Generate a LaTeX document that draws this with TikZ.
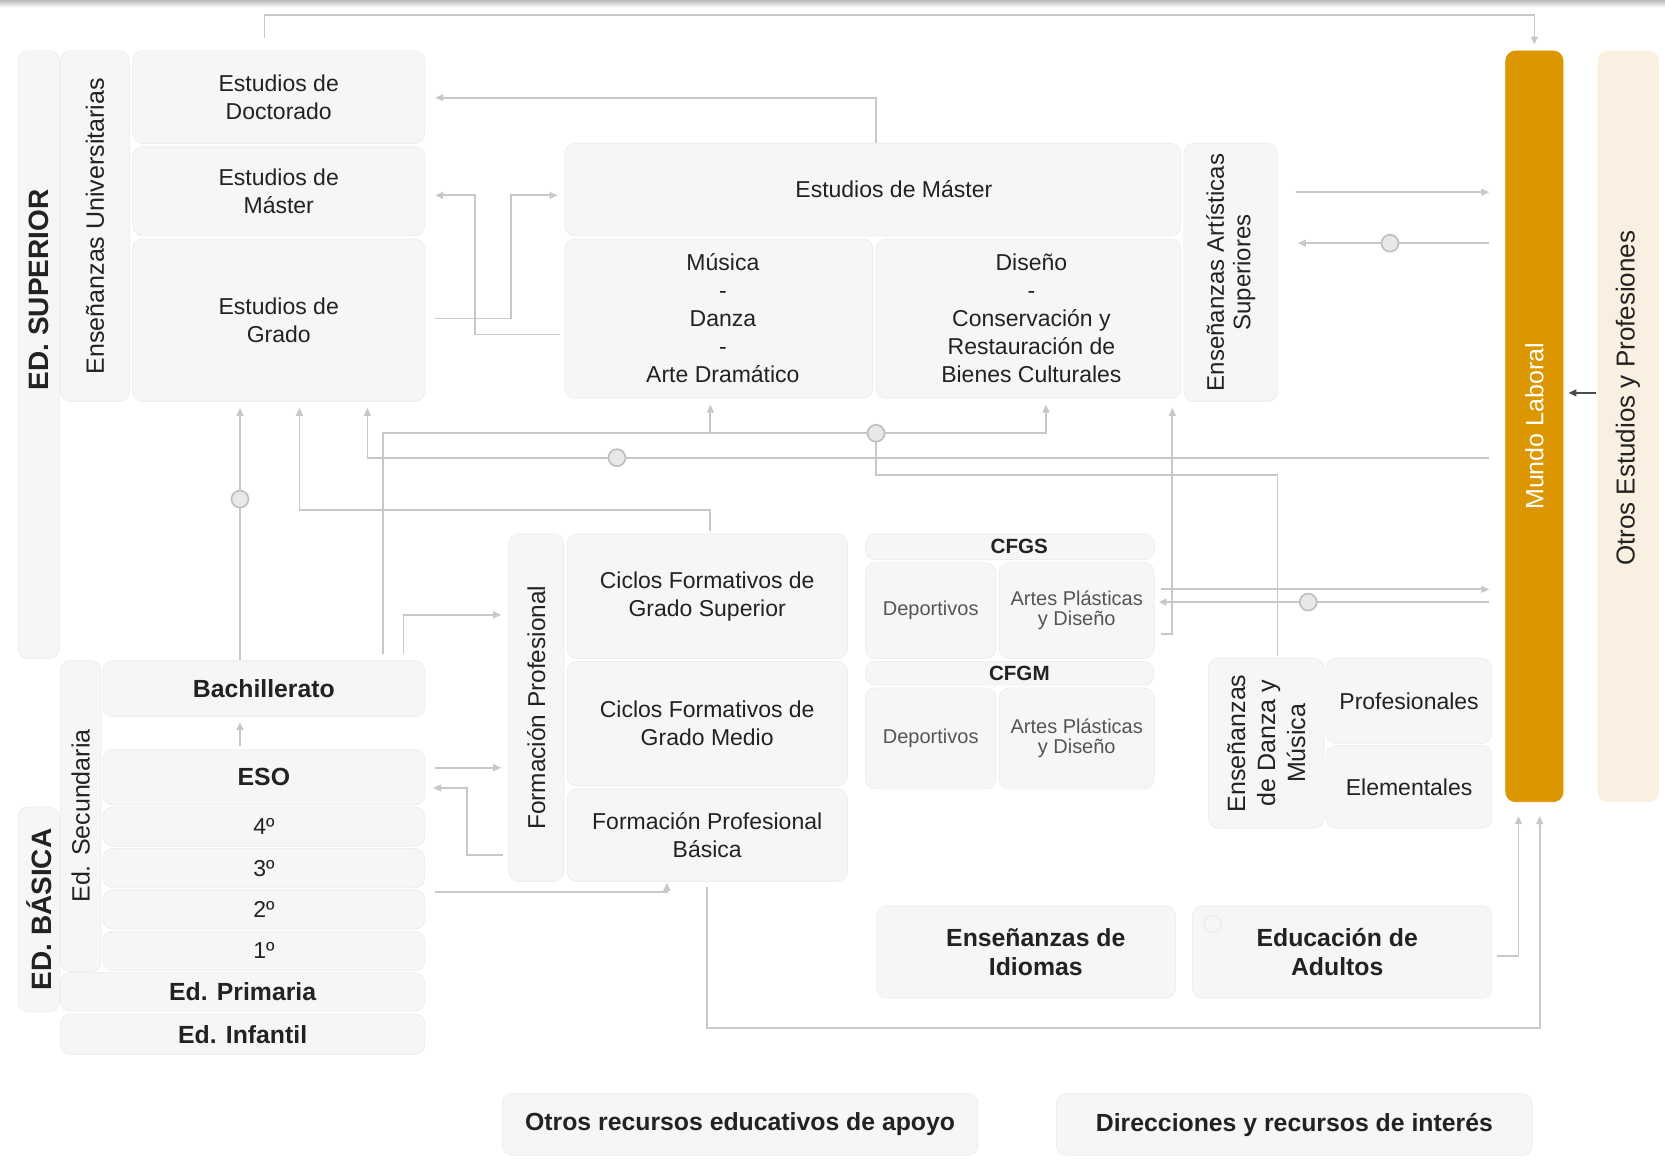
\documentclass[tikz,border=0pt]{standalone}
\usepackage{fontspec}
\setmainfont{Liberation Sans}
\usetikzlibrary{arrows.meta,backgrounds}
\definecolor{boxfill}{RGB}{246,246,246}
\definecolor{boxline}{RGB}{238,238,238}
\definecolor{linegray}{RGB}{200,200,200}
\definecolor{txt}{RGB}{34,34,34}
\definecolor{smalltxt}{RGB}{85,85,85}
\definecolor{mundocol}{RGB}{220,150,0}
\definecolor{otroscol}{RGB}{250,240,226}
\definecolor{circfill}{RGB}{232,232,232}
\definecolor{circline}{RGB}{190,190,190}
\newcommand\fReg{\fontsize{11.5}{14}\selectfont}
\newcommand\fBold{\fontsize{12.4}{14.3}\selectfont\bfseries}
\newcommand\fRot{\fontsize{12.5}{15}\selectfont}
\newcommand\fRotS{\fontsize{12}{13.3}\selectfont}
\newcommand\fSmall{\fontsize{10}{10}\selectfont}
\newcommand\fSmallB{\fontsize{10.3}{11}\selectfont\bfseries}
\newcommand\fEd{\fontsize{14}{16}\selectfont\bfseries}
\newcommand\bx[7][]{\node[box,minimum width={(#4-#2)*0.531pt},minimum height={(#5-#3)*0.531pt},#1] (#6) at ({(#2+#4)/2},{(#3+#5)/2}) {#7};}
\newcommand\vbx[7][]{\node[box,rotate=90,minimum width={(#5-#3)*0.531pt},minimum height={(#4-#2)*0.531pt},#1] (#6) at ({(#2+#4)/2},{(#3+#5)/2}) {#7};}
\tikzset{
  box/.style={draw=boxline,line width=0.4pt,fill=boxfill,rounded corners=5pt,inner sep=0pt,align=center,text=txt,font=\fReg},
  conn/.style={draw=linegray,line width=0.9pt},
  arr/.style={conn,-{Triangle[length=4pt,width=3.4pt]}},
  darr/.style={draw=black!70,line width=0.8pt,-{Triangle[length=4pt,width=3.4pt]}},
  circ/.style={circle,minimum size=8.5pt,inner sep=0pt,fill=circfill,draw=circline,line width=0.8pt},
}
\begin{document}
\begin{tikzpicture}[x=0.531pt,y=-0.531pt]
\useasboundingbox (0,0) rectangle (1568,1091.5);
% --- higher education, university
\bx{125}{48}{400}{135}{doc}{Estudios de\\Doctorado}
\bx{125}{138}{400}{222}{mas}{Estudios de\\Máster}
\bx{125}{225}{400}{378}{gra}{Estudios de\\Grado}
\vbx[font=\fRot]{57}{48}{122}{378}{eu}{Enseñanzas Universitarias}
\vbx{17}{48}{56}{620}{sup}{}
\node[rotate=90,font=\fEd,text=txt] (supt) at (37,273) {ED. SUPERIOR};
% --- artistic
\bx{532}{135}{1112}{222}{amas}{\hspace*{21pt}\raisebox{-2pt}{Estudios de Máster}}
\bx{532}{225}{822}{375}{mus}{\hspace*{4pt}Música\\\hspace*{4pt}-\\\hspace*{4pt}Danza\\\hspace*{4pt}-\\\hspace*{4pt}Arte Dramático}
\bx{825}{225}{1112}{375}{dis}{\hspace*{3pt}Diseño\\\hspace*{3pt}-\\\hspace*{3pt}Conservación y\\\hspace*{3pt}Restauración de\\\hspace*{3pt}Bienes Culturales}
\vbx[font=\fRotS]{1115}{135}{1203}{378}{eas}{Enseñanzas Artísticas\\Superiores}
% --- right columns
\vbx[fill=mundocol,draw=mundocol,text=white,font=\fRot]{1418}{48}{1472}{755}{mundo}{Mundo Laboral}
\vbx[fill=otroscol,draw=otroscol]{1505}{48}{1562}{755}{otros}{}
\node[rotate=90,font=\fontsize{13}{15}\selectfont,text=txt] (otrost) at (1533,375) {Otros Estudios y Profesiones};
% --- FP
\vbx[font=\fontsize{12.2}{14}\selectfont]{479}{503}{531}{830}{fp}{Formación Profesional}
\bx{534}{503}{798}{620}{cfgs}{Ciclos Formativos de\\Grado Superior}
\bx{534}{623}{798}{740}{cfgm}{Ciclos Formativos de\\Grado Medio}
\bx{534}{743}{798}{830}{fpb}{Formación Profesional\\Básica}
% --- CFGS / CFGM
\bx[font=\fSmallB]{815}{503}{1087}{527}{gsh}{\hspace*{9.5pt}CFGS}
\bx[font=\fSmall,text=smalltxt]{815}{530}{938}{620}{gsdep}{Deportivos}
\bx[font=\fSmall,text=smalltxt]{941}{530}{1087}{620}{gsart}{Artes Plásticas\\y Diseño}
\bx[font=\fSmallB]{815}{623}{1087}{645}{gmh}{\hspace*{9.5pt}CFGM}
\bx[font=\fSmall,text=smalltxt]{815}{648}{938}{743}{gmdep}{Deportivos}
\bx[font=\fSmall,text=smalltxt]{941}{648}{1087}{743}{gmart}{Artes Plásticas\\y Diseño}
% --- Danza y Musica
\vbx[font=\fRot]{1138}{620}{1247}{780}{edm}{Enseñanzas\\de Danza y\\Música}
\bx{1249}{620}{1405}{700}{prof}{Profesionales}
\bx{1249}{702}{1405}{780}{elem}{Elementales}
% --- secondary / basic
\vbx[font=\fRot]{57}{622}{95}{915}{sec}{Ed. Secundaria}
\bx[font=\fBold]{97}{622}{400}{675}{bach}{Bachillerato}
\bx[font=\fBold]{97}{706}{400}{758}{eso}{ESO}
\bx{97}{760}{400}{797}{c4}{4º}
\bx{97}{799}{400}{836}{c3}{3º}
\bx{97}{838}{400}{875}{c2}{2º}
\bx{97}{877}{400}{914}{c1}{1º}
\bx[font=\fBold]{57}{916}{400}{952}{prim}{Ed. Primaria}
\bx[font=\fBold]{57}{955}{400}{993}{inf}{Ed. Infantil}
\vbx[font=\fEd]{17}{760}{56}{953}{bas}{ED. BÁSICA}
% --- others
\bx[font=\fBold]{826}{853}{1107}{940}{idi}{\hspace*{9.5pt}Enseñanzas de\\\hspace*{9.5pt}Idiomas}
\bx[font=\fBold]{1123}{853}{1405}{940}{adu}{\hspace*{-5pt}Educación de\\\hspace*{-5pt}Adultos}
\bx[font=\fBold]{473}{1030}{921}{1088}{otr}{Otros recursos educativos de apoyo}
\bx[font=\fBold]{995}{1030}{1443}{1088}{dir}{Direcciones y recursos de interés}
% --- junction circles
\node[circ] (k1) at (226,470) {};
\node[circ] (k2) at (581,431) {};
\node[circ] (k3) at (825,408) {};
\node[circ] (k4) at (1309,229) {};
\node[circ] (k5) at (1232,567) {};
\node[circ,fill=none,draw=boxline] (k6) at (1142,870) {};
\coordinate (topstart) at (249,36);
% --- connectors (rotated nodes: north=left, south=right, east=top, west=bottom)
\begin{scope}[on background layer]
\fill[white] (0,0) rectangle (1568,1091.5);
\shade[top color=gray!55,bottom color=white] (0,0) rectangle (1568,7);
\draw[arr,shorten >=3pt] (topstart) |- (mundo.east |- 0,14) -- (mundo.east);
\draw[arr,shorten >=5pt] (amas.north -| 825,0) |- (doc.east |- 0,92);
\draw[arr,shorten <=5pt,shorten >=3.5pt] (gra.east |- 0,300) -- (481,300) |- (amas.west |- 0,184);
\draw[arr,shorten <=2.5pt,shorten >=5pt] (mus.west |- 0,315) -| (447,184) -- (mas.east |- 0,184);
\draw[arr,shorten >=3pt] (bach.north -| 226,0) -- (gra.south -| 226,0);
\draw[arr,shorten <=1.5pt,shorten >=2.5pt] (eso.north -| 226,0) -- (bach.south -| 226,0);
\draw[arr,shorten <=1.5pt,shorten >=3pt] (cfgs.north -| 669,0) |- (282,480) -- (gra.south -| 282,0);
\draw[arr,shorten <=8pt,shorten >=3pt] (mundo.north |- 0,431) -| (gra.south -| 346,0);
\draw[arr,shorten <=3pt,shorten >=3pt] (bach.north -| 361,0) -- (361,408) -| (dis.south -| 985,0);
\draw[arr,shorten >=3pt] (669,408) -- (mus.south -| 669,0);
\draw[conn,shorten >=1pt] (k3.center) |- (1203,447) -- (edm.east -| 1203,0);
\draw[arr,shorten <=3pt,shorten >=3pt] (gsart.east |- 0,597) -| (eas.west -| 1104,0);
\draw[arr,shorten <=3pt,shorten >=8pt] (gsart.east |- 0,555) -- (mundo.north |- 0,555);
\draw[arr,shorten <=8pt,shorten >=2pt] (mundo.north |- 0,567) -- (gsart.east |- 0,567);
\draw[arr,shorten <=9pt,shorten >=8pt] (eas.south |- 0,181) -- (mundo.north |- 0,181);
\draw[arr,shorten <=8pt,shorten >=10pt] (mundo.north |- 0,229) -- (eas.south |- 0,229);
\draw[darr,shorten <=1pt,shorten >=2.5pt] (otros.north |- 0,370) -- (mundo.south |- 0,370);
\draw[arr,shorten <=3pt,shorten >=3.5pt] (bach.north -| 380,0) |- (fp.north |- 0,579);
\draw[arr,shorten <=5pt,shorten >=3.5pt] (eso.east |- 0,723) -- (fp.north |- 0,723);
\draw[arr,shorten <=2.5pt,shorten >=4pt] (fp.north |- 0,805) -| (440,742) -- (eso.east |- 0,742);
\draw[arr,shorten <=5pt,shorten >=0.5pt] (c3.east |- 0,840) -| (fpb.south -| 628,0);
\draw[arr,shorten <=2.5pt,shorten >=7pt] (fpb.south) |- (1450,968) -- (mundo.west -| 1450,0);
\draw[arr,shorten <=2.5pt,shorten >=7pt] (adu.east |- 0,900) -| (mundo.west -| 1430,0);
\end{scope}
\end{tikzpicture}
\end{document}
